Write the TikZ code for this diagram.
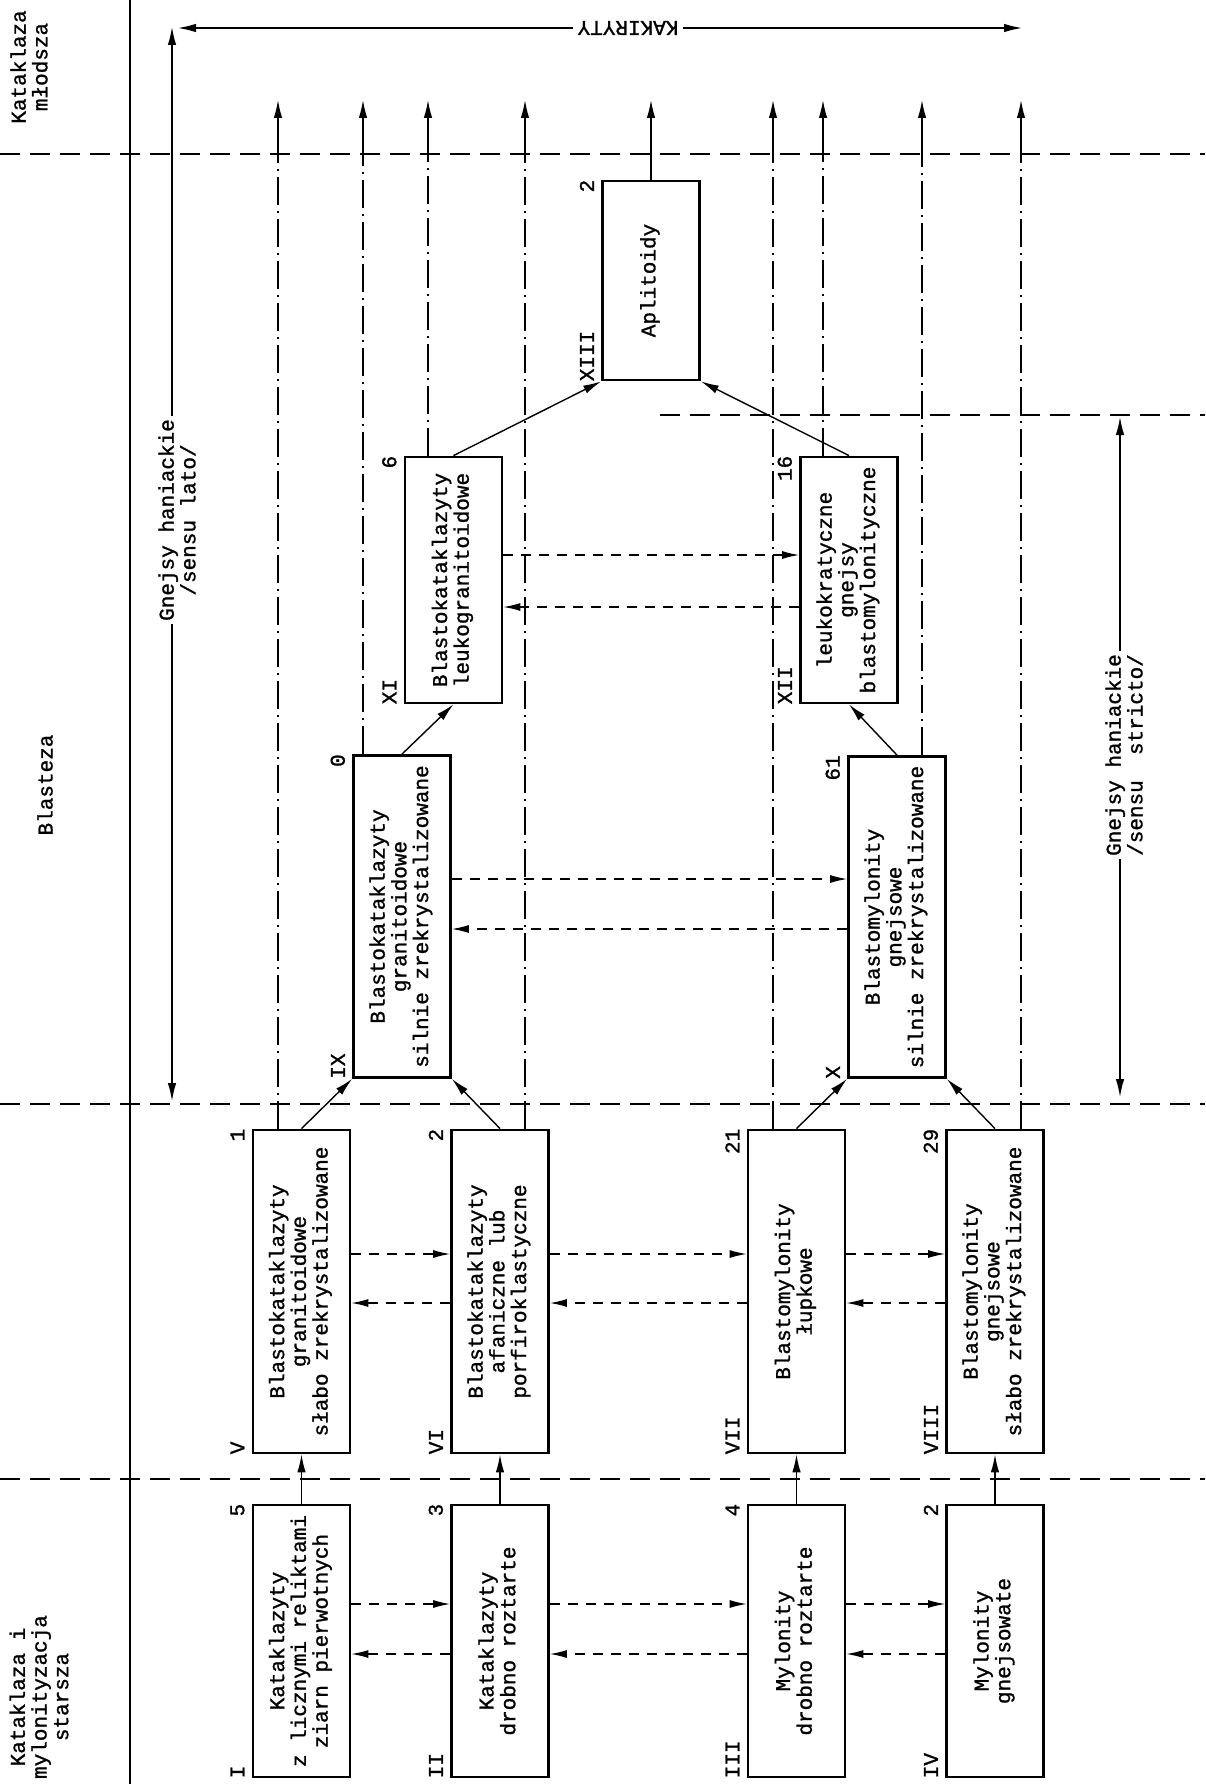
\documentclass[tikz,border=0pt]{standalone}
\usepackage{fontspec}
\newfontfamily\tw[FakeBold=1.2]{Liberation Mono}
\usetikzlibrary{arrows.meta,calc}
\newcommand\rtxt[1]{\rotatebox{90}{\begin{tabular}{@{}c@{}}#1\end{tabular}}}
\newcommand\dpair[4]{%
  \draw[dconn] (#1.east |- 0,#3) -- (#2.west |- 0,#3);
  \draw[dconn] (#2.west |- 0,#4) -- (#1.east |- 0,#4);}
\begin{document}
\begin{tikzpicture}[x=1pt,y=-1pt,
  every node/.style={font=\tw\fontsize{21}{21.7}\selectfont},
  box/.style={draw,line width=2.8pt,minimum width=97pt,inner sep=0pt},
  arr/.style={line width=1.4pt,-{Latex[length=18pt,width=8.5pt]}},
  dconn/.style={line width=1.2pt,dash pattern=on 10pt off 8pt,-{Latex[length=17pt,width=8pt]}},
  dashdot/.style={line width=1.1pt,dash pattern=on 28pt off 6pt on 2pt off 6pt},
  bound/.style={line width=1.6pt,dash pattern=on 20pt off 10pt},
  rn/.style={rotate=90,anchor=south west,inner sep=0pt},
  nm/.style={rotate=90,anchor=south east,inner sep=0pt},
]
\useasboundingbox (0,0) rectangle (1205,1784);
\fill[white] (0,0) rectangle (1205,1784);

% frame line and zone boundaries
\draw[line width=1.2pt] (130,0) -- (130,1784);
\draw[bound] (0,154) -- (1205,154);
\draw[bound] (0,1104) -- (1205,1104);
\draw[bound] (0,1479) -- (1205,1479);
\draw[bound] (660,415) -- (1205,415);

% zone labels
\node[rotate=90,align=center] (zm) at (29,67) {Kataklaza\\młodsza};
\node[rotate=90] (zb) at (45,785) {Blasteza};
\node[rotate=90,align=center] (zs) at (39,1697) {Kataklaza i\\mylonityzacja\\starsza};

% boxes
\node[box,minimum height=272pt] (I) at (301.5,1641) {\rtxt{Kataklazyty\\z licznymi reliktami\\ziarn pierwotnych}};
\node[box,minimum height=272pt] (II) at (500,1641) {\rtxt{Kataklazyty\\drobno roztarte}};
\node[box,minimum height=272pt] (III) at (796.5,1641) {\rtxt{Mylonity\\drobno roztarte}};
\node[box,minimum height=272pt] (IV) at (995,1641) {\rtxt{Mylonity\\gnejsowate}};
\node[box,minimum height=323pt] (V) at (301.5,1291.5) {\rtxt{Blastokataklazyty\\granitoidowe\\słabo zrekrystalizowane}};
\node[box,minimum height=323pt] (VI) at (500,1291.5) {\rtxt{Blastokataklazyty\\afaniczne lub\\porfiroklastyczne}};
\node[box,minimum height=323pt] (VII) at (796.5,1291.5) {\rtxt{Blastomylonity\\łupkowe}};
\node[box,minimum height=323pt] (VIII) at (995,1291.5) {\rtxt{Blastomylonity\\gnejsowe\\słabo zrekrystalizowane}};
\node[box,minimum height=322pt] (IX) at (402,916.5) {\rtxt{Blastokataklazyty\\granitoidowe\\silnie zrekrystalizowane}};
\node[box,minimum height=321pt] (X) at (897,917) {\rtxt{Blastomylonity\\gnejsowe\\silnie zrekrystalizowane}};
\node[box,minimum height=246pt] (XI) at (453.5,580) {\rtxt{Blastokataklazyty\\leukogranitoidowe}};
\node[box,minimum height=246pt] (XII) at (849,580) {\rtxt{leukokratyczne\\gnejsy\\blastomylonityczne}};
\node[box,minimum height=199pt] (XIII) at (651,280.5) {\rtxt{Aplitoidy}};

% roman numerals and counts
\foreach \b/\r/\n in {I/I/5,II/II/3,III/III/4,IV/IV/2,V/V/1,VI/VI/2,VII/VII/21,VIII/VIII/29,IX/IX/0,X/X/61,XI/XI/6,XII/XII/16,XIII/XIII/2}{
  \node[rn] (\b-r) at ($(\b.south west)+(-7,0)$) {\r};
  \node[nm] (\b-n) at ($(\b.north west)+(-7,0)$) {\n};
}

% solid transitions
\draw[arr] (I.north) -- (V.south);
\draw[arr] (II.north) -- (VI.south);
\draw[arr] (III.north) -- (VII.south);
\draw[arr] (IV.north) -- (VIII.south);
\draw[arr] (V.north) -- (IX.south west);
\draw[arr] (VI.north) -- (IX.south east);
\draw[arr] (VII.north) -- (X.south west);
\draw[arr] (VIII.north) -- (X.south east);
\draw[arr] (IX.north) -- (XI.south);
\draw[arr] (X.north) -- (XII.south);
\draw[arr] (XI.north) -- (XIII.south west);
\draw[arr] (XII.north) -- (XIII.south east);

% dashed two-way links
\dpair{I}{II}{1604}{1654}
\dpair{II}{III}{1604}{1654}
\dpair{III}{IV}{1604}{1654}
\dpair{V}{VI}{1254}{1303}
\dpair{VI}{VII}{1254}{1303}
\dpair{VII}{VIII}{1254}{1303}
\dpair{IX}{X}{879}{929}
\dpair{XI}{XII}{555}{607}

% lines to the top
\foreach \k/\xx/\b in {1/278/V,2/363/IX,3/428/XI,4/525/VI,5/651/XIII,6/773/VII,7/823/XII,8/922/X,9/1021/VIII}{
  \coordinate (t\k) at (\xx,154);
  \coordinate (a\k) at (\xx,100);
  \draw[dashdot] (t\k |- \b.north) -- (t\k);
  \draw[arr] (t\k) -- (a\k);
}

% KAKIRYTY
\node[rotate=180,inner sep=4pt] (kak) at (628,28) {KAKIRYTY};
\coordinate (kl) at (178,28);
\coordinate (kr) at (1022,28);
\draw[arr] (kak.east) -- (kl);
\draw[arr] (kak.west) -- (kr);

% Gnejsy haniackie sensu lato
\coordinate (gltop) at (172,27);
\coordinate (glbot) at (172,1101);
\node[rotate=90,align=center,inner sep=3pt] (gsl) at (177,520) {Gnejsy haniackie\\/sensu lato/};
\draw[arr] (gltop |- gsl.east) -- (gltop);
\draw[arr] (gltop |- gsl.west) -- (glbot);

% Gnejsy haniackie sensu stricto
\coordinate (grtop) at (1120,417);
\coordinate (grbot) at (1120,1097);
\node[rotate=90,align=center,inner sep=3pt] (gsr) at (1124,755) {Gnejsy haniackie\\/sensu~~stricto/};
\draw[arr] (grtop |- gsr.east) -- (grtop);
\draw[arr] (grtop |- gsr.west) -- (grbot);
\end{tikzpicture}
\end{document}
